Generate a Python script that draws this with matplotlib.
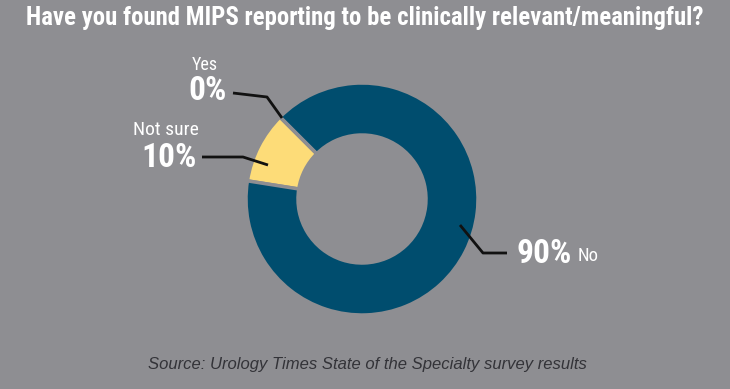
import matplotlib
matplotlib.use("Agg")
import matplotlib.pyplot as plt

labels = ["Not sure", "No", "Yes"]
values = [10, 90, 0]
colors = ["#fddc78", "#004d6e", "#004d6e"]

title = "Have you found MIPS reporting to be clinically relevant/meaningful?"
source = "Source: Urology Times State of the Specialty survey results"

bg = "#8e8e92"
W, H = 730, 389

fig = plt.figure(figsize=(7.3, 3.89), dpi=100, facecolor=bg)
ax = fig.add_axes([0, 0, 1, 1])
ax.set_facecolor(bg)

cx, cy = 362, H - 199
ax.pie(
    values,
    colors=colors,
    startangle=135,
    counterclock=True,
    center=(cx, cy),
    radius=116,
    wedgeprops=dict(width=52, edgecolor=bg, linewidth=2.5),
)
ax.set_xlim(0, W)
ax.set_ylim(0, H)
ax.set_aspect("equal")
ax.axis("off")

narrow = ["Roboto Condensed", "DejaVu Sans"]


def y(py):
    return H - py


# title
ax.text(W / 2, y(18), title, color="white", fontsize=17.8, fontweight="bold",
        family=narrow, ha="center", va="center")

# leader lines (pixel coords of the reference)
line_kw = dict(color="#111111", lw=2, solid_capstyle="butt")
ax.plot([233, 267, 282], [y(93), y(97), y(118)], **line_kw)
ax.plot([202, 243, 268], [y(157), y(157), y(165)], **line_kw)
ax.plot([460, 483, 507], [y(225), y(253), y(253)], **line_kw)

# labels
ax.text(205, y(65), labels[2], color="white", fontsize=13, family=narrow,
        ha="center", va="center")
ax.text(227, y(91), "%d%%" % values[2], color="white", fontsize=24,
        fontweight="bold", family=narrow, ha="right", va="center")
ax.text(166, y(130), labels[0], color="white", fontsize=14, family=narrow,
        ha="center", va="center")
ax.text(197, y(158), "%d%%" % values[0], color="white", fontsize=24,
        fontweight="bold", family=narrow, ha="right", va="center")
ax.text(516, y(254), "%d%%" % values[1], color="white", fontsize=24,
        fontweight="bold", family=narrow, ha="left", va="center")
ax.text(578, y(256), labels[1], color="white", fontsize=13.5, family=narrow,
        ha="left", va="center")

# source
ax.text(367, y(364), source, color="#333338", fontsize=12, style="italic",
        family=["Liberation Sans", "DejaVu Sans"], ha="center", va="center")

fig.savefig("out.png", dpi=100, facecolor=bg)
